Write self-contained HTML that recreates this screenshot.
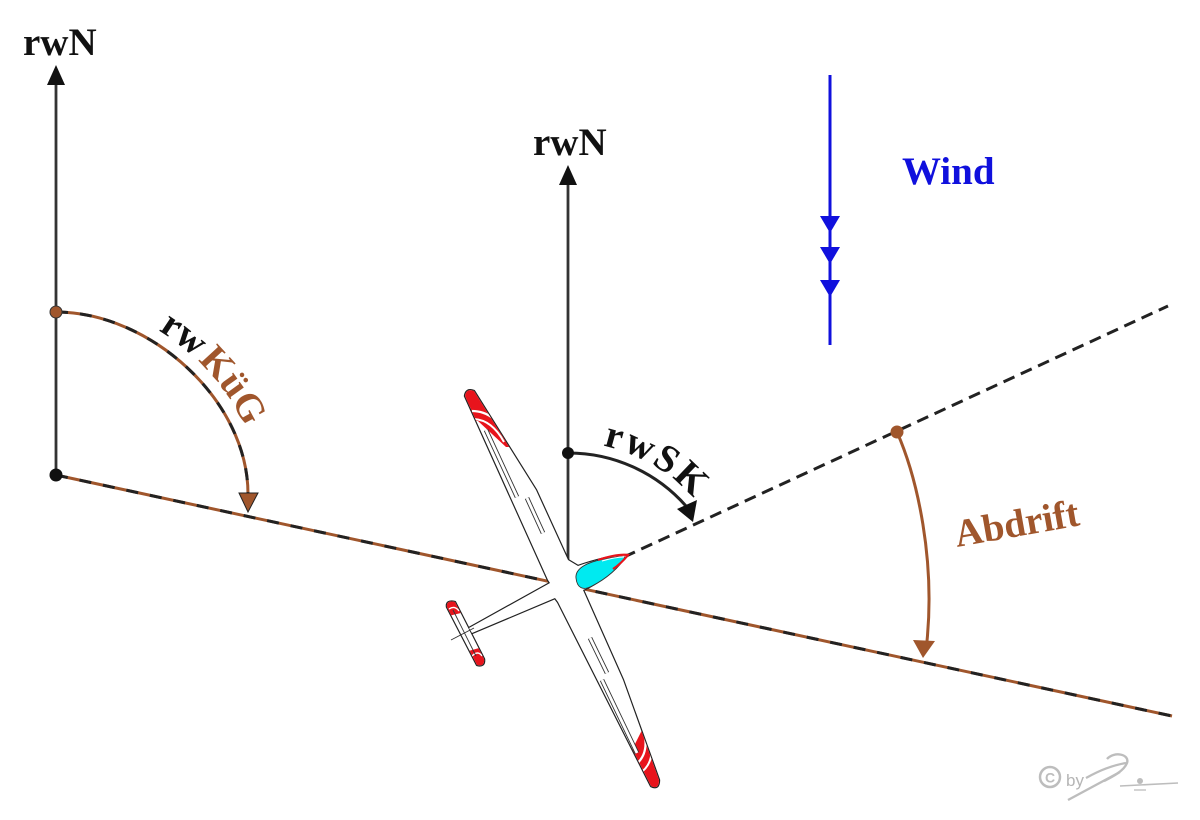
<!DOCTYPE html>
<html><head><meta charset="utf-8"><style>html,body{margin:0;padding:0;background:#fff}svg{display:block}</style></head>
<body>
<svg width="1200" height="820" viewBox="0 0 1200 820" xmlns="http://www.w3.org/2000/svg" font-family="'Liberation Serif', serif" font-weight="bold">
<defs>
<path id="kpath" d="M56,300 C158,300 260,393 260,495"/>
<path id="spath" d="M568,442 A168,168 0 0 1 713.5,526"/>
<path id="body" d="M628,555 C615,568 600,583 583,590 L623,680 L659,780 Q659,790 651,786 L558,602 L555,598 L472,633 L469,628 L550,583 L548,580 L465,396 Q466,388 474,391 L536,490 L568,560 L578,566 C595,560 615,555 628,555 Z"/>
<path id="tail" d="M447,607 Q446,600 455,602 L484,659 Q485,667 477,665 Z"/>
<clipPath id="cb"><use href="#body"/></clipPath>
<clipPath id="ct"><use href="#tail"/></clipPath>
</defs>
<rect width="1200" height="820" fill="#fff"/>

<!-- left north axis -->
<line x1="56" y1="80" x2="56" y2="475" stroke="#333" stroke-width="2.8"/>
<polygon points="56,65 47,85 65,85" fill="#111"/>
<text x="23" y="55" font-size="39" fill="#111">rwN</text>

<!-- main track line (brown/black dashed) -->
<line x1="56" y1="475" x2="1172" y2="716" stroke="#a0562c" stroke-width="3"/>
<line x1="56" y1="475" x2="1172" y2="716" stroke="#222" stroke-width="3" stroke-dasharray="12 12"/>

<!-- rwKüG arc -->
<path d="M56,312 C150,312 248,400 248,494" fill="none" stroke="#a0562c" stroke-width="3"/>
<path d="M56,312 C150,312 248,400 248,494" fill="none" stroke="#222" stroke-width="3" stroke-dasharray="12 12"/>
<polygon points="248,512 239,493 258,493" fill="#a0562c" stroke="#222" stroke-width="1"/>
<circle cx="56" cy="312" r="6" fill="#a0562c" stroke="#333" stroke-width="1"/>
<circle cx="56" cy="475" r="6.5" fill="#111"/>
<text font-size="39"><textPath href="#kpath" startOffset="108"><tspan fill="#111">rw</tspan><tspan fill="#a0562c" dx="4">KüG</tspan></textPath></text>

<!-- heading dashed line -->
<line x1="624" y1="557" x2="1168" y2="306" stroke="#222" stroke-width="3" stroke-dasharray="12 7"/>

<!-- middle north axis -->
<line x1="568" y1="180" x2="568" y2="565" stroke="#333" stroke-width="2.8"/>
<polygon points="568,165 559,185 577,185" fill="#111"/>
<text x="533" y="155" font-size="39" fill="#111">rwN</text>

<!-- rwSK arc -->
<path d="M568,453 A157,157 0 0 1 686,506" fill="none" stroke="#222" stroke-width="3"/>
<polygon points="693,522 677,509 697,500" fill="#111"/>
<circle cx="568" cy="453" r="6" fill="#111"/>
<text font-size="39" fill="#111" letter-spacing="3"><textPath href="#spath" startOffset="35">rwSK</textPath></text>

<!-- Wind -->
<line x1="830" y1="75" x2="830" y2="345" stroke="#1010dd" stroke-width="3"/>
<polygon points="830,233 820,216 840,216" fill="#1010dd"/>
<polygon points="830,264 820,247 840,247" fill="#1010dd"/>
<polygon points="830,297 820,280 840,280" fill="#1010dd"/>
<text x="902" y="184" font-size="39" fill="#1010dd">Wind</text>

<!-- Abdrift -->
<path d="M897,432 C918,480 935,560 927,641" fill="none" stroke="#a0562c" stroke-width="3"/>
<polygon points="923,658 913,640 935,641" fill="#a0562c"/>
<circle cx="897" cy="432" r="6.5" fill="#a0562c"/>
<text transform="translate(957,547) rotate(-10)" font-size="39" fill="#a0562c">Abdrift</text>

<!-- glider -->
<g>
  <g stroke="#222" stroke-width="2.4" fill="#fff" stroke-linejoin="round">
    <use href="#tail"/><use href="#body"/>
  </g>
  <g fill="#fff" stroke="none">
    <use href="#tail"/><use href="#body"/>
  </g>
  <g clip-path="url(#cb)">
    <polygon points="455,380 482,380 514,447 506,447 478,421 455,421" fill="#e8141c"/>
    <path d="M472,411 Q496,411 509,441" fill="none" stroke="#fff" stroke-width="2.2"/>
    <path d="M474,419 Q492,420 504,442" fill="none" stroke="#fff" stroke-width="2"/>
    <polygon points="643,728 672,728 672,800 625,800 626,762" fill="#e8141c"/>
    <path d="M634,766 Q648,756 645,737" fill="none" stroke="#fff" stroke-width="2.2"/>
    <path d="M639,774 Q654,764 651,745" fill="none" stroke="#fff" stroke-width="2"/>
  </g>
  <g clip-path="url(#ct)">
    <polygon points="440,595 465,595 465,612 440,618" fill="#e8141c"/>
    <polygon points="465,652 490,645 490,672 465,672" fill="#e8141c"/>
    <path d="M449,609 Q455,605 459,611" stroke="#fff" stroke-width="1.4" fill="none"/>
    <path d="M472,656 Q478,650 482,656" stroke="#fff" stroke-width="1.4" fill="none"/>
  </g>
  <line x1="453" y1="610" x2="476" y2="656" stroke="#333" stroke-width="0.9"/>
  <line x1="451" y1="640" x2="474" y2="628" stroke="#333" stroke-width="0.9"/>
  <g stroke-linecap="butt">
    <line x1="486" y1="430" x2="517" y2="497" stroke="#333" stroke-width="4.6"/>
    <line x1="486" y1="430" x2="517" y2="497" stroke="#fff" stroke-width="2.8"/>
    <line x1="527" y1="498" x2="543" y2="533" stroke="#333" stroke-width="4.6"/>
    <line x1="527" y1="498" x2="543" y2="533" stroke="#fff" stroke-width="2.8"/>
    <line x1="590" y1="638" x2="607" y2="673" stroke="#333" stroke-width="4.6"/>
    <line x1="590" y1="638" x2="607" y2="673" stroke="#fff" stroke-width="2.8"/>
    <line x1="602" y1="680" x2="637" y2="753" stroke="#333" stroke-width="4.6"/>
    <line x1="602" y1="680" x2="637" y2="753" stroke="#fff" stroke-width="2.8"/>
  </g>
  <path d="M576,578 C575,568 588,562 604,559 C614,557 621,556 625,557 C620,567 606,579 592,586 C583,591 577,588 576,578 Z" fill="#00eaf0" stroke="#333" stroke-width="0.9"/>
  <path d="M598,560 C610,556 620,554 628,555 C624,560 619,565 613,569" fill="none" stroke="#e8141c" stroke-width="2.2"/>
  <path d="M602,561 C612,558 619,557 624,557" fill="none" stroke="#fff" stroke-width="1"/>
</g>

<!-- copyright -->
<g fill="none" stroke="#bdbdbd">
  <circle cx="1050" cy="777" r="10" stroke-width="2.5"/>
  <path d="M1068,800 L1120,772" stroke-width="2.4"/>
  <path d="M1086,778 C1100,770 1114,765 1126,763" stroke-width="2.2"/>
  <path d="M1107,759 C1114,751 1130,754 1127,763 C1124,771 1112,777 1104,781" stroke-width="2.4"/>
  <path d="M1120,786 L1178,783" stroke-width="1.6"/>
  <path d="M1134,790 L1146,790" stroke-width="1.3"/>
</g>
<circle cx="1140" cy="781" r="3" fill="#bdbdbd"/>
<text x="1050" y="782.5" font-family="'Liberation Sans', sans-serif" font-size="14" font-weight="bold" fill="#bdbdbd" text-anchor="middle">C</text>
<text x="1066" y="786" font-family="'Liberation Sans', sans-serif" font-size="17" font-weight="normal" fill="#b5b5b5">by</text>
</svg>
</body></html>
